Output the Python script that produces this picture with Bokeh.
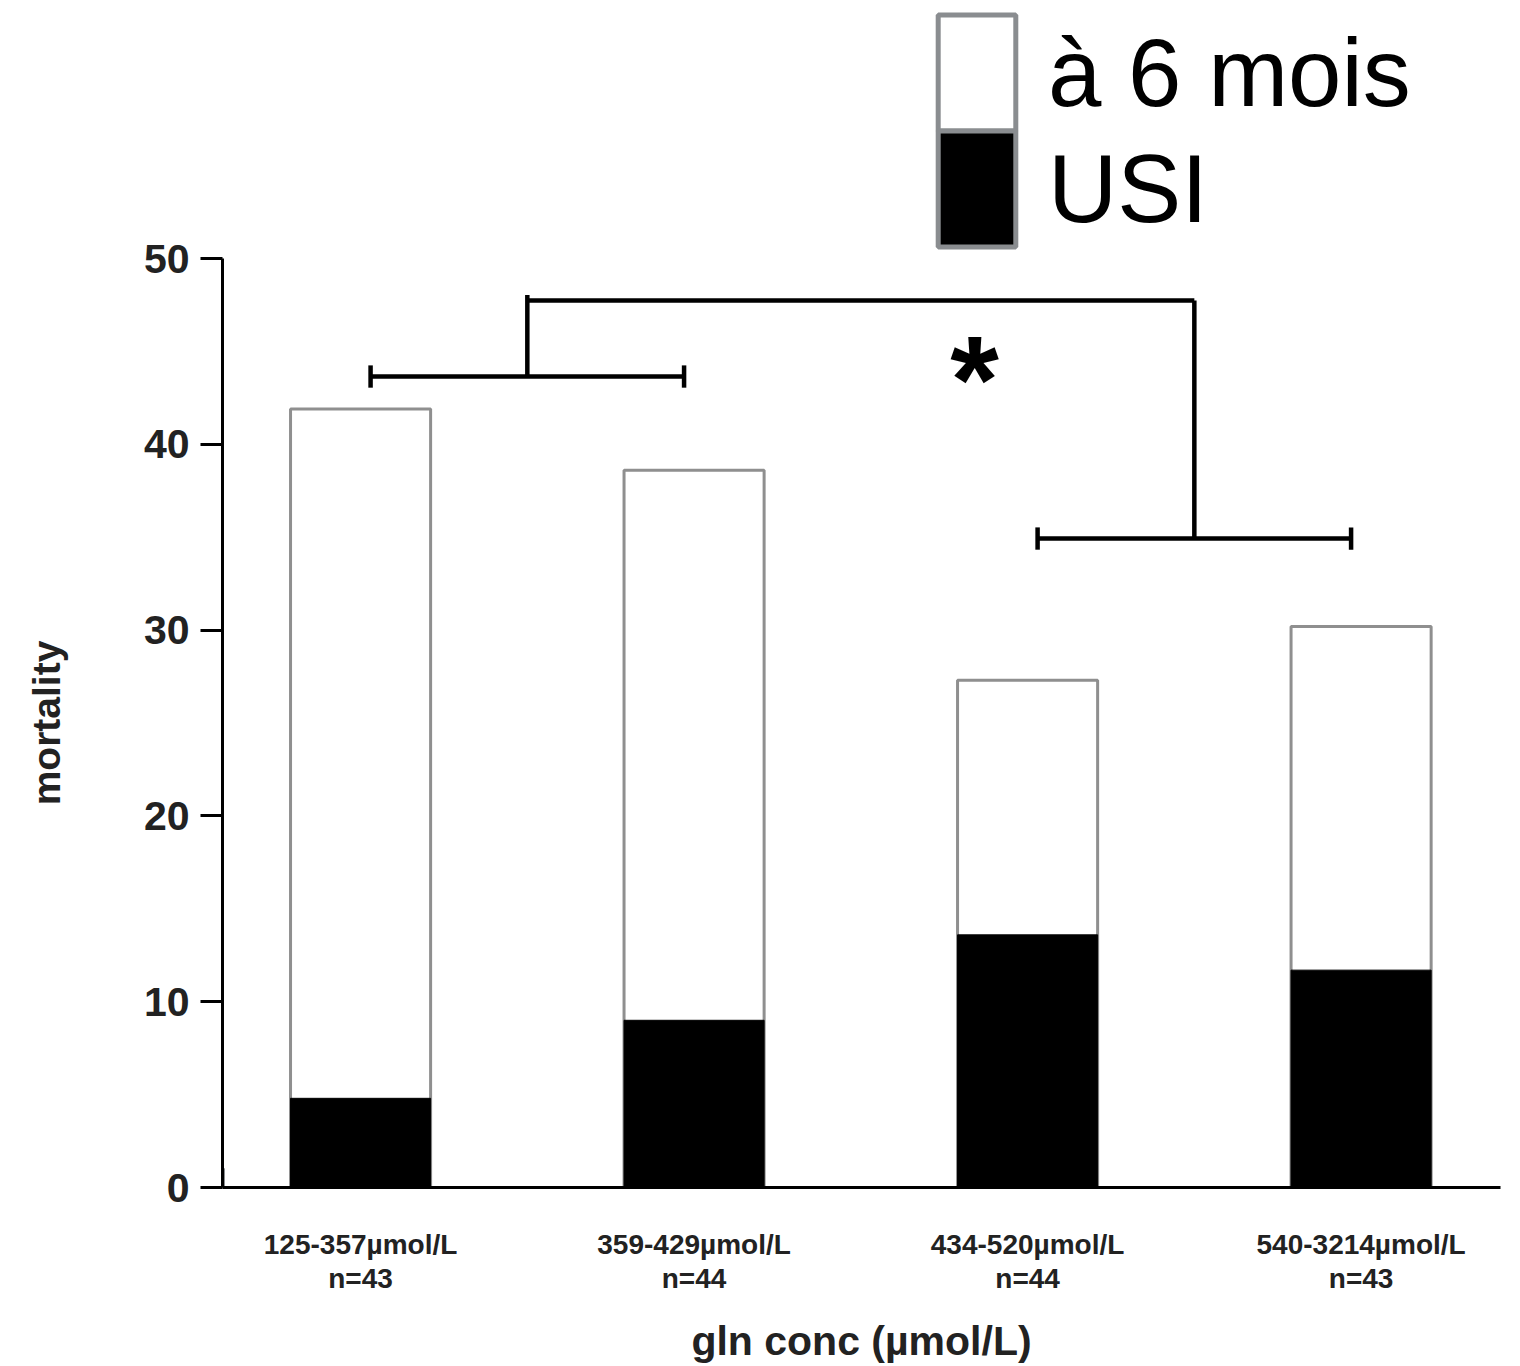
from bokeh.plotting import figure
from bokeh.models import Range1d, FixedTicker, Legend, LegendItem, ColumnDataSource, LinearAxis
from bokeh.core.properties import value
from bokeh.embed import file_html
from bokeh.resources import INLINE

# ---- data ----
conc_ranges = ["125-357µmol/L", "359-429µmol/L", "434-520µmol/L", "540-3214µmol/L"]
group_n = ["n=43", "n=44", "n=44", "n=43"]
mortality_6_months = [41.9, 38.6, 27.3, 30.2]
mortality_icu = [4.8, 9.0, 13.6, 11.7]
y_ticks = [0, 10, 20, 30, 40, 50]
series_labels = ["à 6 mois", "USI"]
y_title = "mortality"
x_title = "gln conc (µmol/L)"

# significance annotation: groups 1-2 vs groups 3-4
left_pair = [1, 2]
right_pair = [3, 4]
left_pair_level = 43.65
right_pair_level = 34.93
link_level = 47.74
star_pos = (2.841, 43.5)

positions = list(range(1, len(conc_ranges) + 1))
tick_labels = {p_: f"{r}\n{n}" for p_, r, n in zip(positions, conc_ranges, group_n)}

FONT = "Liberation Sans"
X_START, X_END = 0.586, 4.418
Y_MIN, Y_MAX = y_ticks[0], y_ticks[-1]

p = figure(frame_width=1278, frame_height=1187, output_backend="svg", toolbar_location=None,
           x_range=Range1d(X_START, X_END), y_range=Range1d(0, 63.89),
           min_border_left=222, min_border_right=10, min_border_top=0, min_border_bottom=0)
p.outline_line_color = None
p.xgrid.grid_line_color = None
p.ygrid.grid_line_color = None
p.background_fill_color = "white"

# bars
src = ColumnDataSource(dict(x=positions, total=mortality_6_months, icu=mortality_icu))
p.vbar(x="x", top="total", bottom=0, width=0.42, source=src,
       fill_color="white", line_color="#8f8f8f", line_width=3)
p.vbar(x="x", top="icu", bottom=0, width=0.42, source=src,
       fill_color="black", line_color="black", line_width=1)

# brackets
cap = 0.6
inset = 0.03
lx0, lx1 = left_pair[0] + inset, left_pair[1] - inset
rx0, rx1 = right_pair[0] + inset, right_pair[1] - inset
lmid = sum(left_pair) / 2
rmid = sum(right_pair) / 2
seg = dict(
    x0=[lx0, lx0, lx1, rx0, rx0, rx1, lmid, lmid, rmid],
    y0=[left_pair_level, left_pair_level - cap, left_pair_level - cap,
        right_pair_level, right_pair_level - cap, right_pair_level - cap,
        left_pair_level, link_level, link_level],
    x1=[lx1, lx0, lx1, rx1, rx0, rx1, lmid, rmid, rmid],
    y1=[left_pair_level, left_pair_level + cap, left_pair_level + cap,
        right_pair_level, right_pair_level + cap, right_pair_level + cap,
        link_level + 0.3, link_level, right_pair_level],
)
p.segment(x0="x0", y0="y0", x1="x1", y1="y1", source=ColumnDataSource(seg),
          line_color="black", line_width=4.5, line_cap="butt")
p.text(x=[star_pos[0]], y=[star_pos[1]], text=["*"], text_font=value(FONT),
       text_font_style="bold", text_font_size="125px", text_align="center",
       text_baseline="middle", text_color="black")

# axes
for ax in (p.xaxis[0], p.yaxis[0]):
    ax.axis_line_width = 3
    ax.axis_line_color = "black"
    ax.minor_tick_line_color = None
    ax.major_label_text_font = FONT
    ax.major_label_text_font_style = "bold"
    ax.major_label_text_color = "#222222"
    ax.axis_label_text_font = FONT
    ax.axis_label_text_font_style = "bold"
    ax.axis_label_text_color = "#222222"

p.yaxis.ticker = FixedTicker(ticks=y_ticks)
p.yaxis.bounds = (Y_MIN, Y_MAX)
p.yaxis.major_tick_out = 22
p.yaxis.major_tick_in = 0
p.yaxis.major_tick_line_width = 3
p.yaxis.major_label_text_font_size = "41px"
p.yaxis.major_label_standoff = 11

# y title: a label-only axis so that the title is centred on the 0-50 span
mid = (Y_MIN + Y_MAX) / 2
title_axis = LinearAxis(ticker=FixedTicker(ticks=[mid]), major_label_overrides={mid: y_title},
                        axis_line_color=None, major_tick_line_color=None, minor_tick_line_color=None,
                        major_tick_out=0, major_tick_in=0, major_label_orientation="vertical",
                        major_label_standoff=72, major_label_text_font=FONT,
                        major_label_text_font_style="bold", major_label_text_font_size="39px",
                        major_label_text_color="#222222")
p.add_layout(title_axis, "left")

p.xaxis.ticker = FixedTicker(ticks=positions)
p.xaxis.major_label_overrides = tick_labels
p.xaxis.major_tick_line_color = None
p.xaxis.major_tick_out = 0
p.xaxis.major_tick_in = 0
p.xaxis.major_label_text_font_size = "28px"
p.xaxis.major_label_text_line_height = 1.1
p.xaxis.major_label_standoff = 41
p.xaxis.axis_label = x_title
p.xaxis.axis_label_text_font_size = "41px"
p.xaxis.axis_label_standoff = 21

# legend: two one-item legends stacked so that the two swatches touch
r_white = p.vbar(x=[-10], top=[1], width=0.4, fill_color="white", line_color="#8a8d90", line_width=5)
r_black = p.vbar(x=[-10], top=[1], width=0.4, fill_color="black", line_color="#8a8d90", line_width=5)
legend_style = dict(orientation="vertical", glyph_width=97, glyph_height=145, label_height=145,
                    label_standoff=23, spacing=0, padding=0, margin=0,
                    border_line_color=None, background_fill_alpha=0,
                    label_text_font=FONT, label_text_font_size="96px",
                    label_text_color="black", label_text_baseline="middle")
legend_a = Legend(items=[LegendItem(label=series_labels[0], renderers=[r_white])],
                  location=(706, 1042), **legend_style)
legend_b = Legend(items=[LegendItem(label=series_labels[1], renderers=[r_black])],
                  location=(706, 926), **legend_style)
p.add_layout(legend_a, "center")
p.add_layout(legend_b, "center")

open("out.html", "w").write(file_html(p, INLINE))
